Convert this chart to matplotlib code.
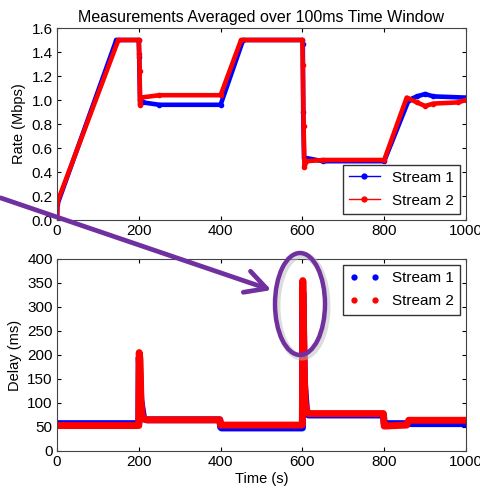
import matplotlib
matplotlib.use("Agg")
import matplotlib.pyplot as plt
from matplotlib.lines import Line2D
from matplotlib.patches import Ellipse, FancyArrowPatch

# ---- rate (Mbps) ----
rate_t1 = [0, 1, 145, 200, 201, 203, 210, 250, 400, 455, 600, 601, 602, 604, 650, 800, 860, 880, 900, 920, 1000]
rate_s1 = [0.0, 0.13, 1.50, 1.50, 1.36, 1.00, 0.98, 0.96, 0.96, 1.50, 1.50, 1.47, 0.90, 0.52, 0.49, 0.49, 1.00, 1.03, 1.05, 1.03, 1.02]
rate_t2 = [0, 1, 150, 200, 201, 202, 203, 205, 250, 400, 450, 600, 601, 603, 605, 610, 650, 800, 855, 880, 900, 920, 980, 1000]
rate_s2 = [0.0, 0.15, 1.50, 1.50, 1.38, 1.24, 0.96, 1.02, 1.04, 1.04, 1.50, 1.50, 1.29, 0.78, 0.44, 0.49, 0.50, 0.50, 1.02, 0.98, 0.95, 0.97, 0.98, 1.00]

# ---- delay (ms) ----
delay_t1 = [0, 200, 201, 205, 212, 220, 398, 400, 402, 598, 600, 601, 605, 610, 615, 798, 800, 802, 860, 870, 1000]
delay_s1 = [57, 57, 195, 105, 67, 65, 65, 50, 48, 48, 48, 330, 140, 85, 75, 75, 57, 57, 57, 57, 57]
delay_t2 = [0, 198, 200, 201, 203, 205, 208, 212, 220, 398, 400, 402, 598, 600, 601, 603, 605, 607, 610, 615, 798, 800, 802, 855, 860, 1000]
delay_s2 = [53, 53, 53, 205, 190, 110, 75, 67, 65, 65, 54, 54, 54, 55, 355, 250, 150, 100, 85, 78, 78, 52, 52, 54, 64, 64]

BLUE = "#0000ff"
RED = "#ff0000"
PURPLE = "#7030a0"

plt.rcParams.update({
    "font.family": ["Liberation Sans", "DejaVu Sans"],
    "font.size": 11,
    "xtick.direction": "in",
    "ytick.direction": "in",
    "xtick.top": True,
    "ytick.right": True,
    "xtick.major.size": 3,
    "ytick.major.size": 3,
    "xtick.major.pad": 3,
    "ytick.major.pad": 3,
    "axes.edgecolor": "#444444",
})

W, H = 481, 488
fig = plt.figure(figsize=(W / 100, H / 100), dpi=100)
fig.patch.set_facecolor("white")


def ax_rect(l, t, r, b):
    return [l / W, 1 - b / H, (r - l) / W, (b - t) / H]


ax1 = fig.add_axes(ax_rect(57, 28, 466, 220))
ax2 = fig.add_axes(ax_rect(57, 259, 466, 451))

# top: rate
ax1.plot(rate_t1, rate_s1, "-", color=BLUE, lw=3.3, marker=".", ms=6, label="Stream 1")
ax1.plot(rate_t2, rate_s2, "-", color=RED, lw=3.3, marker=".", ms=6, label="Stream 2")
ax1.set_xlim(0, 1000)
ax1.set_ylim(0, 1.6)
ax1.set_yticks([0.0, 0.2, 0.4, 0.6, 0.8, 1.0, 1.2, 1.4, 1.6])
ax1.set_xticks([0, 200, 400, 600, 800, 1000])
ax1.set_ylabel("Rate (Mbps)", fontsize=10.5)
ax1.set_title("Measurements Averaged over 100ms Time Window", fontsize=11.5, pad=4)
h1 = [Line2D([], [], color=BLUE, lw=1, marker=".", ms=7),
      Line2D([], [], color=RED, lw=1, marker=".", ms=7)]
leg1 = ax1.legend(h1, ["Stream 1", "Stream 2"], loc="lower right", fontsize=11,
                  fancybox=False, edgecolor="#333333", framealpha=1,
                  borderaxespad=0.4, handlelength=2.0, labelspacing=0.6)
leg1.get_frame().set_linewidth(1.0)

# bottom: delay
ax2.plot(delay_t1, delay_s1, "-", color=BLUE, lw=5)
ax2.plot(delay_t2, delay_s2, "-", color=RED, lw=5)
ax2.set_xlim(0, 1000)
ax2.set_ylim(0, 400)
ax2.set_yticks(range(0, 401, 50))
ax2.set_xticks([0, 200, 400, 600, 800, 1000])
ax2.set_ylabel("Delay (ms)", fontsize=10.5)
ax2.set_xlabel("Time (s)", fontsize=10.5, labelpad=2)
h2 = [Line2D([], [], color=BLUE, ls="none", marker=".", ms=7),
      Line2D([], [], color=RED, ls="none", marker=".", ms=7)]
leg2 = ax2.legend(h2, ["Stream 1", "Stream 2"], loc="upper right", fontsize=11,
                  numpoints=2, fancybox=False, edgecolor="#333333", framealpha=1,
                  borderaxespad=0.4, handlelength=2.0, labelspacing=0.6)
leg2.get_frame().set_linewidth(1.0)


def fpt(x, y):
    return (x / W, 1 - y / H)


# purple annotation: arrow + ellipse
arrow = FancyArrowPatch(fpt(-2, 197), fpt(274, 291), transform=fig.transFigure,
                        arrowstyle="->,head_length=15,head_width=8",
                        color=PURPLE, lw=3.4, mutation_scale=1, zorder=10)
fig.add_artist(arrow)
shadow = Ellipse(fpt(302, 306), 50 / W, 102 / H, transform=fig.transFigure,
                 fill=False, ec="#bbbbbb", lw=5, alpha=0.5, zorder=9)
fig.add_artist(shadow)
ell = Ellipse(fpt(300, 304), 50 / W, 102 / H, transform=fig.transFigure,
              fill=False, ec=PURPLE, lw=3.2, zorder=10)
fig.add_artist(ell)

fig.savefig("out.png", dpi=100, facecolor="white")
